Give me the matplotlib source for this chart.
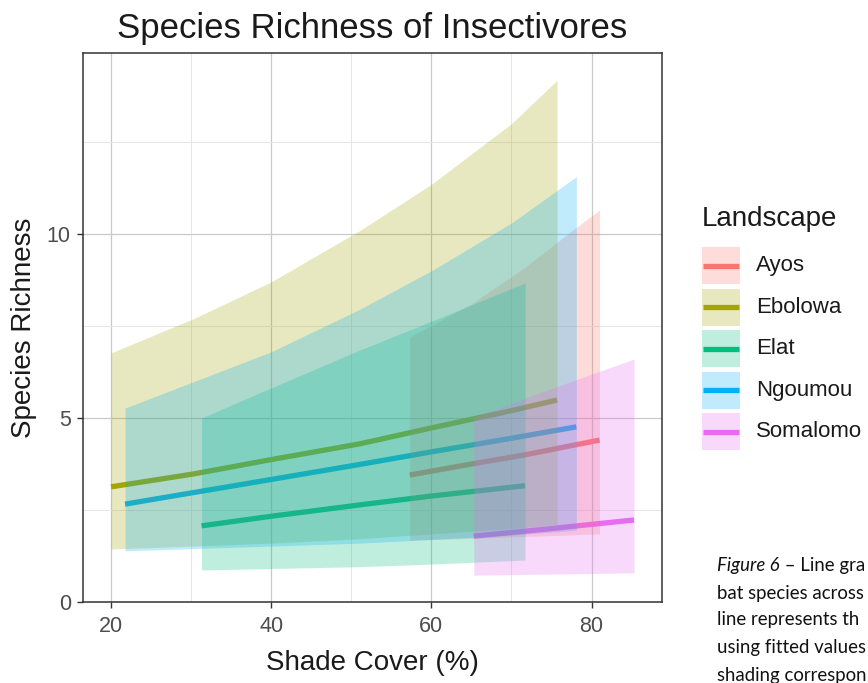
import matplotlib
matplotlib.use("Agg")
import matplotlib.pyplot as plt
from matplotlib.patches import Rectangle
from matplotlib.lines import Line2D

plt.rcParams['font.family'] = ['Liberation Sans', 'DejaVu Sans']

landscapes = ["Ayos", "Ebolowa", "Elat", "Ngoumou", "Somalomo"]
colors = ["#F8766D", "#A3A500", "#00BF7D", "#00B0F6", "#E76BF3"]

# shade cover (x), fitted richness, lower and upper bounds
ayos_x = [57.3, 65.0, 71.7, 78.2, 81.0]
ayos_fit = [3.45, 3.75, 4.0, 4.28, 4.40]
ayos_lo = [1.68, 1.73, 1.78, 1.83, 1.85]
ayos_hi = [7.2, 8.1, 9.1, 10.2, 10.65]

ebolowa_x = [20.0, 30.3, 40.0, 51.1, 60.0, 70.0, 75.7]
ebolowa_fit = [3.13, 3.48, 3.87, 4.3, 4.73, 5.2, 5.49]
ebolowa_lo = [1.44, 1.52, 1.6, 1.72, 1.85, 2.0, 2.1]
ebolowa_hi = [6.77, 7.7, 8.7, 10.1, 11.35, 13.0, 14.18]

elat_x = [31.3, 40.0, 51.1, 60.0, 71.7]
elat_fit = [2.07, 2.33, 2.64, 2.88, 3.16]
elat_lo = [0.87, 0.91, 0.96, 1.03, 1.14]
elat_hi = [5.0, 5.82, 6.85, 7.63, 8.67]

ngoumou_x = [21.75, 40.0, 51.1, 60.0, 70.0, 78.1]
ngoumou_fit = [2.66, 3.33, 3.74, 4.08, 4.45, 4.76]
ngoumou_lo = [1.39, 1.52, 1.6, 1.7, 1.82, 1.95]
ngoumou_hi = [5.27, 6.8, 7.96, 9.0, 10.3, 11.56]

somalomo_x = [65.3, 75.2, 85.3]
somalomo_fit = [1.79, 2.0, 2.23]
somalomo_lo = [0.73, 0.76, 0.79]
somalomo_hi = [5.02, 5.82, 6.6]

series = [
    (ayos_x, ayos_fit, ayos_lo, ayos_hi),
    (ebolowa_x, ebolowa_fit, ebolowa_lo, ebolowa_hi),
    (elat_x, elat_fit, elat_lo, elat_hi),
    (ngoumou_x, ngoumou_fit, ngoumou_lo, ngoumou_hi),
    (somalomo_x, somalomo_fit, somalomo_lo, somalomo_hi),
]

x_ticks = [20, 40, 60, 80]
y_ticks = [0, 5, 10]

caption = ["bat species across", "line represents th", "using fitted values", "shading correspon"]

W, H = 868, 683
fig = plt.figure(figsize=(W / 100, H / 100), dpi=100)
ax = fig.add_axes([83 / W, (H - 602) / H, (662 - 83) / W, (602 - 53) / H])

# lines first, ribbons on top (as in the reference)
for (x, f, lo, hi), c in zip(series, colors):
    ax.plot(x, f, color=c, lw=3.8, solid_capstyle='butt', zorder=2)
for (x, f, lo, hi), c in zip(series, colors):
    ax.fill_between(x, lo, hi, color=c, alpha=0.25, lw=0, zorder=3)

ax.set_xlim(16.5, 88.8)
ax.set_ylim(0, 14.92)
ax.set_xticks(x_ticks)
ax.set_yticks(y_ticks)
ax.set_xticks([30, 50, 70], minor=True)
ax.set_yticks([2.5, 7.5, 12.5], minor=True)
ax.grid(True, which='major', color='#c9c9c9', lw=0.9, zorder=0)
ax.grid(True, which='minor', color='#e6e6e6', lw=0.7, zorder=0)
ax.set_axisbelow(True)
ax.tick_params(axis='both', which='major', length=4.3, width=1, color='#333333',
               labelsize=15.5, labelcolor='#4D4D4D')
ax.tick_params(axis='x', which='major', pad=6)
ax.tick_params(axis='y', which='major', pad=4.5)
ax.tick_params(axis='both', which='minor', length=0)
for s in ax.spines.values():
    s.set_color('#333333')
    s.set_linewidth(1.1)

ax.set_xlabel("Shade Cover (%)", fontsize=20, color='#1a1a1a', labelpad=9)
ax.set_ylabel("Species Richness", fontsize=20, color='#1a1a1a', labelpad=7)
ax.set_title("Species Richness of Insectivores", fontsize=25, color='#1a1a1a', pad=10.5)


def fx(px):
    return px / W


def fy(py):
    return (H - py) / H


# legend drawn in figure pixel coordinates
fig.text(fx(702), fy(219), "Landscape", fontsize=20, color='#1a1a1a', va='center', ha='left')
key_top = 247
pitch = 41.6
for i, (name, c) in enumerate(zip(landscapes, colors)):
    top = key_top + i * pitch
    rect = Rectangle((fx(702), fy(top + 37)), fx(38), 37 / H, transform=fig.transFigure,
                     facecolor=c, alpha=0.25, edgecolor='none')
    fig.patches.append(rect)
    ln = Line2D([fx(703), fx(739)], [fy(top + 18.5)] * 2, transform=fig.transFigure,
                color=c, lw=3.8, solid_capstyle='butt')
    fig.lines.append(ln)
    fig.text(fx(756), fy(top + 18.5), name, fontsize=16, color='#1a1a1a', va='center', ha='left')

# cropped caption text at the bottom right
cap_font = ['Lato', 'DejaVu Sans']
cap_size = 13.4
t1 = fig.text(fx(717), fy(565), "Figure 6", fontsize=cap_size, style='italic',
              family=cap_font, va='center', ha='left', color='#111111')
fig.canvas.draw()
bb = t1.get_window_extent()
fig.text(bb.x1 / W, fy(565), " \u2013 Line gra", fontsize=cap_size,
         family=cap_font, va='center', ha='left', color='#111111')
for line, yy in zip(caption, [593, 620, 647, 675]):
    fig.text(fx(717), fy(yy), line, fontsize=cap_size,
             family=cap_font, va='center', ha='left', color='#111111')

fig.savefig("out.png", dpi=100)
